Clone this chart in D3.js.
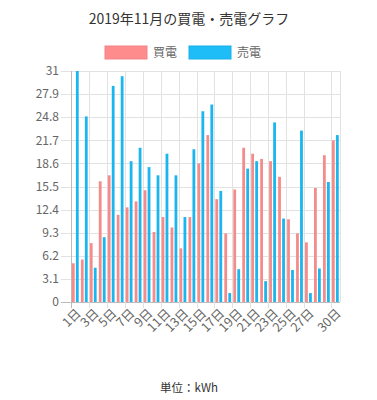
<!DOCTYPE html>
<html>
<head>
<meta charset="utf-8">
<script src="https://cdn.jsdelivr.net/npm/d3@7"></script>
<style>
  body { margin: 0; background: #fff; }
  svg { display: block; font-family: "Noto Sans CJK JP", "Roboto", sans-serif; }
</style>
</head>
<body>
<script>
// data
var days = d3.range(1, 31).map(function(d) { return d + "日"; });
var buy  = [5.2, 5.7, 7.9, 16.2, 17.0, 11.7, 12.7, 13.5, 15.0, 9.4,
            11.4, 10.0, 7.2, 11.4, 18.6, 22.4, 13.8, 9.2, 15.1, 20.7,
            19.9, 19.2, 18.9, 16.8, 11.1, 9.2, 8.0, 15.3, 19.7, 21.7];
var sell = [31.0, 24.9, 4.6, 8.7, 29.0, 30.3, 18.9, 20.7, 18.1, 17.0,
            19.9, 17.0, 11.4, 20.5, 25.6, 26.5, 14.9, 1.2, 4.4, 17.9,
            18.9, 2.8, 24.1, 11.2, 4.3, 23.0, 1.2, 4.5, 16.1, 22.4];
var series = ["買電", "売電"];
var yTicks = [0, 3.1, 6.2, 9.3, 12.4, 15.5, 18.6, 21.7, 24.8, 27.9, 31];
var shownDays = ["1日","3日","5日","7日","9日","11日","13日","15日","17日","19日",
                 "21日","23日","25日","27日","30日"];

var w = 377, h = 400;
var pl = 71, pr = 340, pt = 71, pb = 302;
var fills = ["#f58c8c", "#1cb6ee"];

var svg = d3.select("body").append("svg")
    .attr("width", w)
    .attr("height", h);

var x = d3.scaleBand().domain(days).range([pl, pr]);
var sub = d3.scaleBand().domain(series)
    .range([x.bandwidth() * 0.1, x.bandwidth() * 0.86])
    .paddingInner(0.3);
var y = d3.scaleLinear().domain([0, 31]).range([pb, pt]);

// title
svg.append("text")
    .attr("x", 189).attr("y", 24)
    .attr("text-anchor", "middle")
    .style("font-size", "14px")
    .style("fill", "#333")
    .text("2019年11月の買電・売電グラフ");

// legend
var leg = svg.selectAll("g.leg")
    .data(series)
  .enter().append("g")
    .attr("class", "leg")
    .attr("transform", function(d, i) { return "translate(" + (105 + i * 84) + ",46)"; });
leg.append("rect")
    .attr("width", 42).attr("height", 13)
    .style("fill", function(d, i) { return i ? "#1ebdf7" : "#ff8c8c"; })
    .style("stroke", function(d, i) { return i ? "#18b0ea" : "#f48484"; })
    .style("stroke-width", 1);
leg.append("text")
    .attr("x", 48).attr("y", 11)
    .style("font-size", "12px")
    .style("fill", "#666")
    .text(function(d) { return d; });

// horizontal grid + y ticks
svg.selectAll("line.hg")
    .data(yTicks)
  .enter().append("line")
    .attr("class", "hg")
    .attr("x1", pl - 10).attr("x2", pr)
    .attr("y1", function(d) { return Math.round(y(d)) + 0.5; })
    .attr("y2", function(d) { return Math.round(y(d)) + 0.5; })
    .style("stroke", function(d) { return d === 0 ? "#bbb" : "#e2e2e2"; });

svg.selectAll("text.yt")
    .data(yTicks)
  .enter().append("text")
    .attr("class", "yt")
    .attr("x", 59)
    .attr("y", function(d) { return y(d); })
    .attr("dy", "0.35em")
    .attr("text-anchor", "end")
    .style("font-size", "12px")
    .style("fill", "#666")
    .text(function(d) { return d; });

// vertical grid at shown labels
svg.selectAll("line.vg")
    .data(shownDays)
  .enter().append("line")
    .attr("class", "vg")
    .attr("x1", function(d) { return Math.round(x(d)) + 0.5; })
    .attr("x2", function(d) { return Math.round(x(d)) + 0.5; })
    .attr("y1", pt).attr("y2", pb + 6)
    .style("stroke", function(d, i) { return i === 0 ? "#bbb" : "#e2e2e2"; });
svg.append("line")
    .attr("x1", pr + 0.5).attr("x2", pr + 0.5)
    .attr("y1", pt).attr("y2", pb)
    .style("stroke", "#e2e2e2");

// bars
var groups = svg.selectAll("g.day")
    .data(days)
  .enter().append("g")
    .attr("class", "day")
    .attr("transform", function(d) { return "translate(" + x(d) + ",0)"; });

groups.selectAll("rect")
    .data(function(d, i) { return [buy[i], sell[i]]; })
  .enter().append("rect")
    .attr("x", function(d, j) { return sub(series[j]); })
    .attr("width", sub.bandwidth())
    .attr("y", function(d) { return y(d); })
    .attr("height", function(d) { return pb - y(d); })
    .style("fill", function(d, j) { return fills[j]; });

// x labels
svg.selectAll("text.xt")
    .data(shownDays)
  .enter().append("text")
    .attr("class", "xt")
    .attr("transform", function(d) {
      return "translate(" + (x(d) + x.bandwidth() / 2 + 3) + "," + (pb + 9) + ")rotate(-45)";
    })
    .attr("text-anchor", "end")
    .attr("dy", "0.35em")
    .style("font-size", "12.5px")
    .style("fill", "#666")
    .text(function(d) { return d; });

// unit
svg.append("text")
    .attr("x", 189).attr("y", 392)
    .attr("text-anchor", "middle")
    .style("font-size", "11.5px")
    .style("fill", "#333")
    .text("単位：kWh");
</script>
</body>
</html>
